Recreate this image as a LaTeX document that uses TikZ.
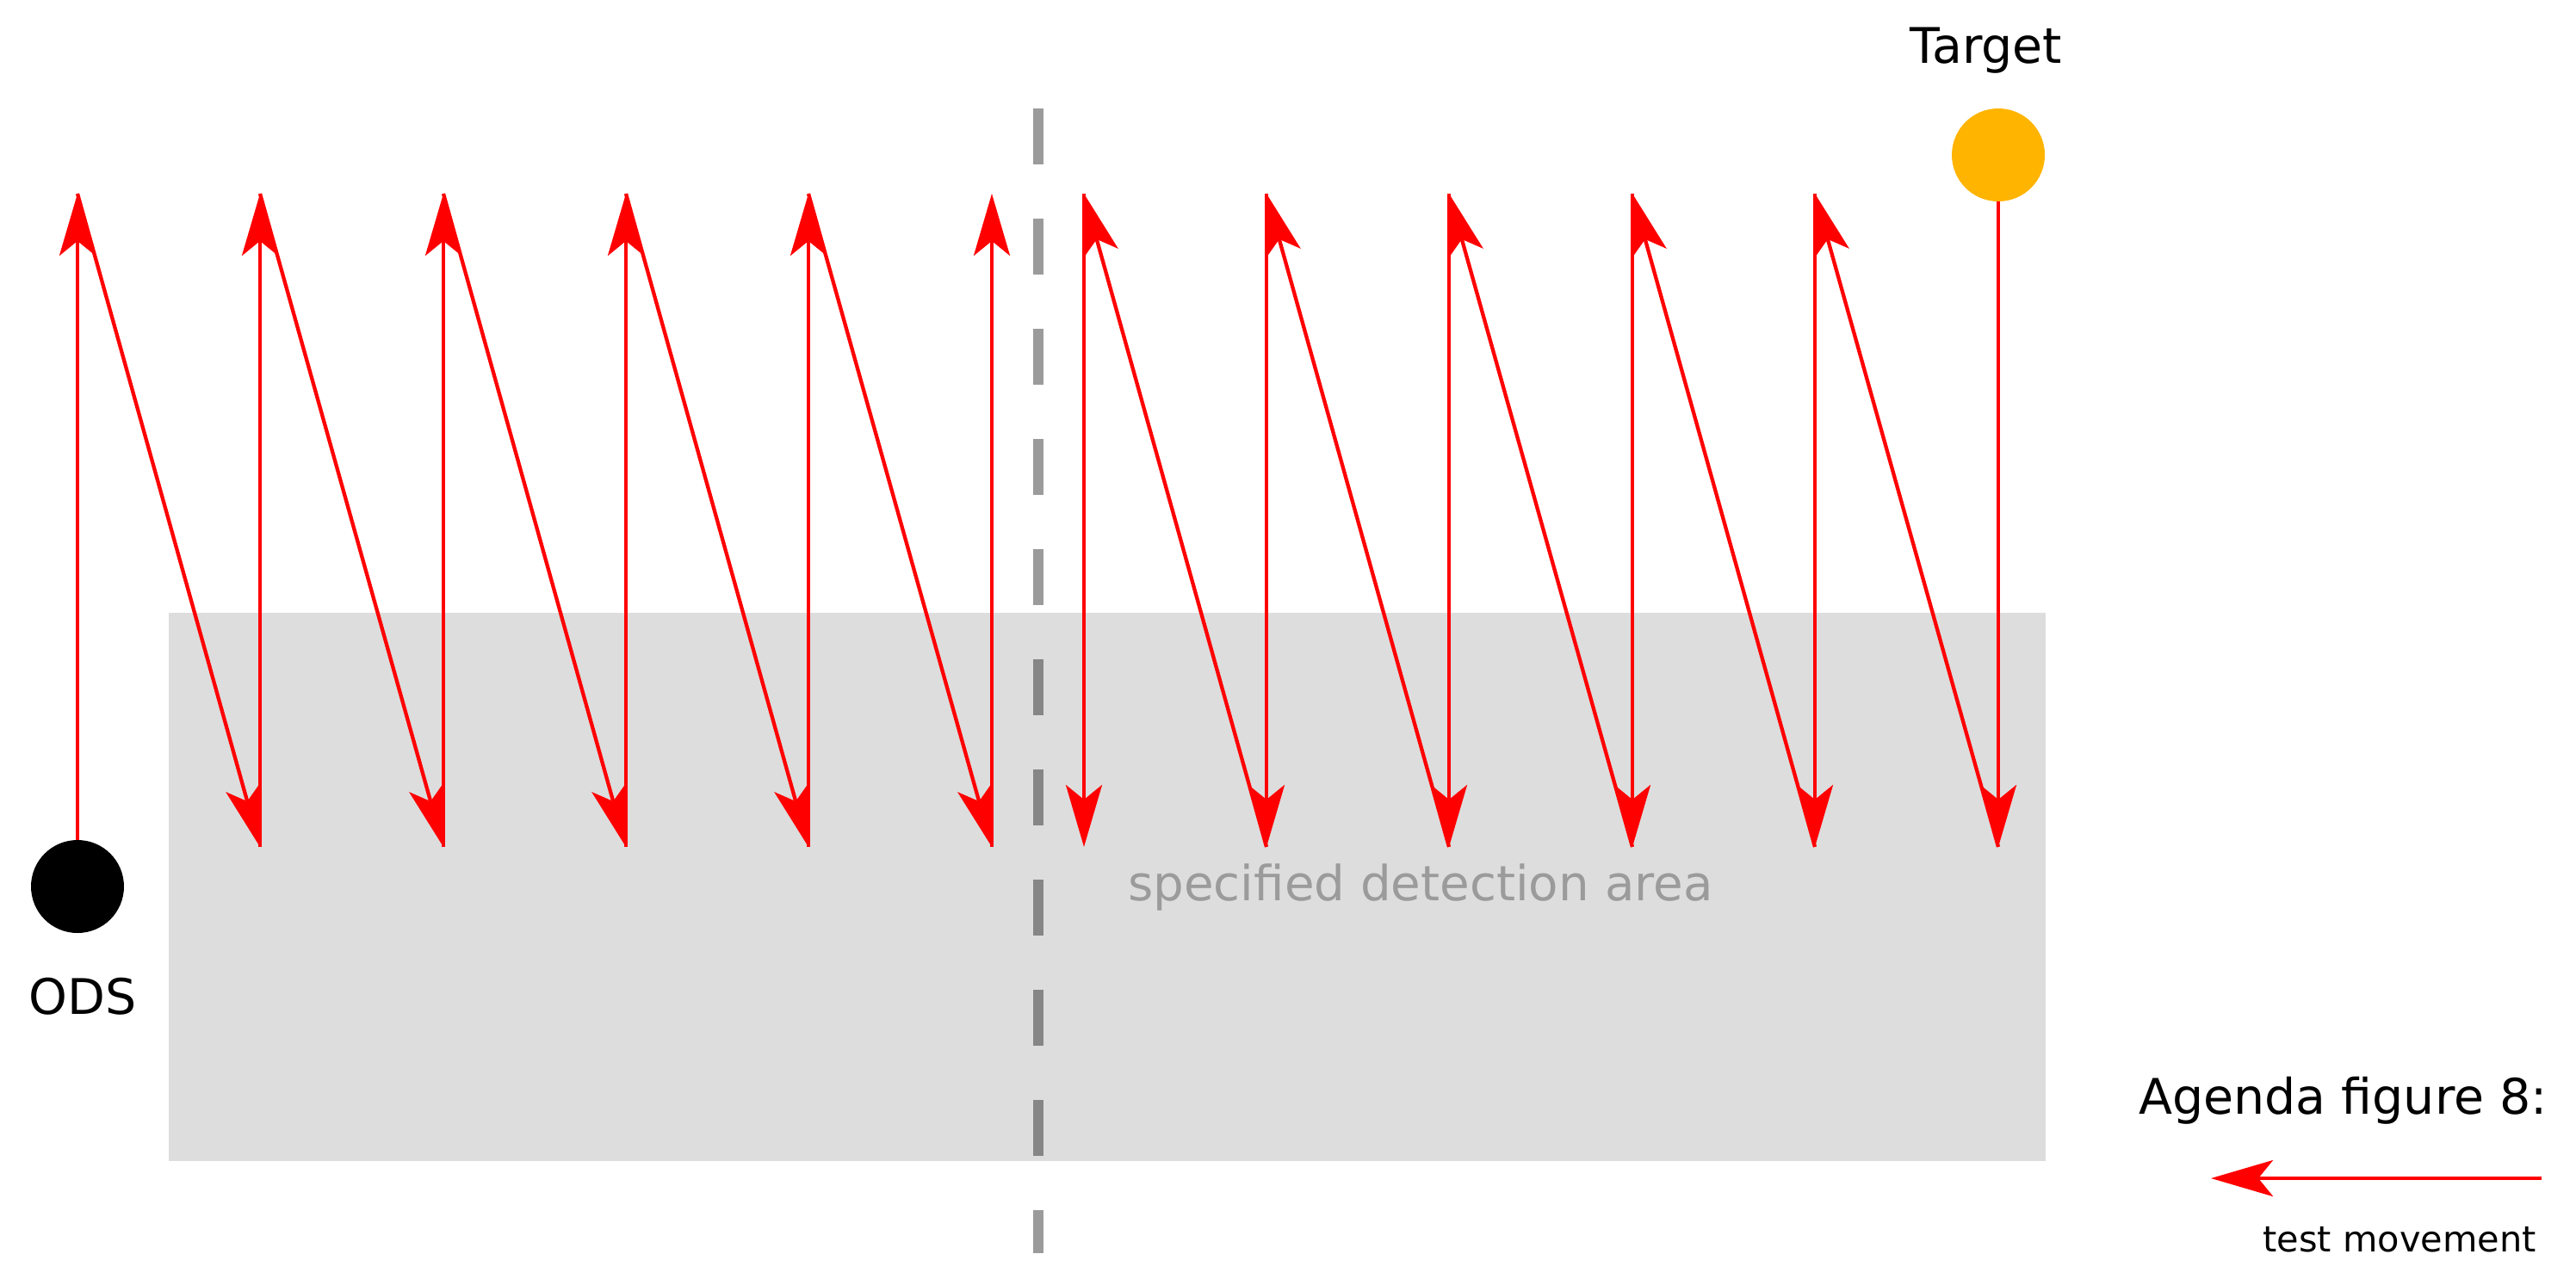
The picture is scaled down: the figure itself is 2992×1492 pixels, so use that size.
\documentclass[tikz,border=0pt]{standalone}
\usepackage{fontspec}
\setmainfont{DejaVu Sans}
\usetikzlibrary{arrows.meta}
\definecolor{targetorange}{HTML}{FFB400}
\definecolor{dashgray}{HTML}{9B9B9B}
\begin{document}
\begin{tikzpicture}[x=1pt,y=-1pt,
  move/.style={draw=red, line width=4.3pt, -{Stealth[length=72pt,width=42pt,inset=17pt]}},
  bigtext/.style={inner sep=0pt, font=\fontsize{57}{68}\selectfont},
  dot/.style={circle, inner sep=0pt, minimum size=108pt}]
\useasboundingbox (0,0) rectangle (2992,1492);
% dashed separator
\coordinate (dtop) at (1206,126);
\coordinate (dbot) at (1206,1456);
\draw[dashgray, line width=12pt, dash pattern=on 65pt off 63pt] (dtop) -- (dbot);
% detection area
\fill[black, fill opacity=0.134] (196,712) rectangle (2376,1349);
\node[inner sep=0pt, font=\fontsize{56.3}{68}\selectfont, anchor=base west, text=dashgray] (area) at (1310,1046) {specified detection area};
% ODS and target
\node[dot, fill=black] (ods) at (90,1030) {};
\node[bigtext, anchor=base] (odslabel) at (96,1178) {ODS};
\node[dot, fill=targetorange] (target) at (2321,180) {};
\node[bigtext, anchor=base] (targetlabel) at (2307,73) {Target};
% left zigzag
\foreach \i/\x in {0/90,1/302,2/515,3/727,4/939,5/1152}{
  \coordinate (lt\i) at (\x,225);
  \coordinate (lb\i) at (\x,984);
}
\draw[move] (ods.north) -- (lt0);
\foreach \i in {1,...,5}{
  \draw[move] (lb\i) -- (lt\i);
}
\foreach \i/\j in {0/1,1/2,2/3,3/4,4/5}{
  \draw[move] (lt\i) -- (lb\j);
}
% right zigzag
\foreach \i/\x in {0/2321,1/2108,2/1896,3/1683,4/1471,5/1259}{
  \coordinate (rt\i) at (\x,225);
  \coordinate (rb\i) at (\x,984);
}
\draw[move] (target.south) -- (rb0);
\foreach \i in {1,...,5}{
  \draw[move] (rt\i) -- (rb\i);
}
\foreach \i/\j in {0/1,1/2,2/3,3/4,4/5}{
  \draw[move] (rb\i) -- (rt\j);
}
% legend
\node[bigtext, anchor=base east] (agenda) at (2959,1294) {Agenda figure 8:};
\coordinate (lgstart) at (2952,1369);
\coordinate (lgend) at (2568,1369);
\draw[move] (lgstart) -- (lgend);
\node[inner sep=0pt, anchor=base east, font=\fontsize{41.5}{50}\selectfont] (testmove) at (2946,1454) {test movement};
\end{tikzpicture}
\end{document}
